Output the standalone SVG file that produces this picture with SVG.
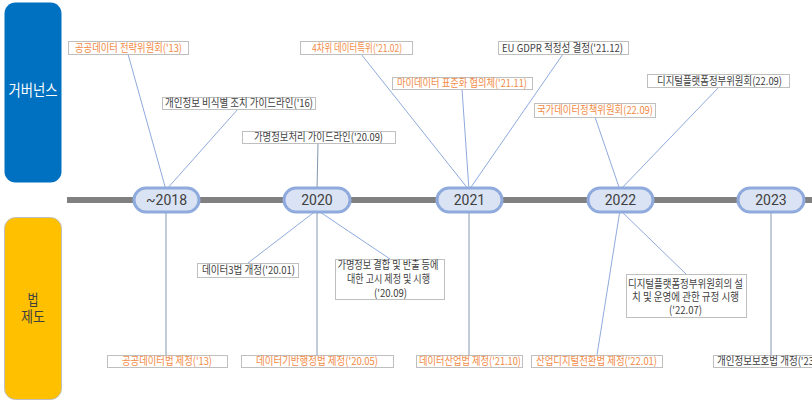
<svg xmlns="http://www.w3.org/2000/svg" width="812" height="404" viewBox="0 0 812 404">
<style>
.lbl{fill:#fff;stroke:#BFBFBF;stroke-width:1}
.t{font-family:"Noto Sans CJK KR","Liberation Sans",sans-serif;font-size:11px;text-anchor:middle}
.o{fill:#F28A45}
.g{fill:#404040}
.pill{fill:#DAE3F3;stroke:#8FAADC;stroke-width:3}
.yr{font-family:Roboto,"Liberation Sans",sans-serif;font-size:14px;fill:#404040;text-anchor:middle}
.cn line{stroke:#8FAADC;stroke-width:1}
.cn line.v{stroke:#8497B0}
</style>
<rect width="812" height="404" fill="#fff"/>
<g id="panel-gov">
<rect x="4.5" y="2.5" width="57" height="180" rx="11" fill="#0070C0"/>
<text x="33" y="96" font-family="Noto Sans CJK KR,sans-serif" font-size="16" fill="#fff" text-anchor="middle" textLength="49" lengthAdjust="spacingAndGlyphs">거버넌스</text>
</g>
<g id="panel-law">
<rect x="4.5" y="217.5" width="57" height="182" rx="11" fill="#FFC000" stroke="#BFBFBF" stroke-width="1"/>
<text font-family="Noto Sans CJK KR,sans-serif" font-size="15" fill="#404040" text-anchor="middle"><tspan x="33" y="305" textLength="11" lengthAdjust="spacingAndGlyphs">법</tspan><tspan x="33" y="322" textLength="24" lengthAdjust="spacingAndGlyphs">제도</tspan></text>
</g>
<rect id="timeline" x="67" y="197" width="745" height="6" fill="#808080"/>
<g id="connectors" class="cn">
<line x1="128" y1="54" x2="166" y2="190"/>
<line x1="238" y1="109" x2="166" y2="190"/>
<line x1="318" y1="143" x2="317" y2="190" class="v"/>
<line x1="361" y1="54" x2="469" y2="190"/>
<line x1="462" y1="89" x2="469" y2="190"/>
<line x1="563" y1="54" x2="469" y2="190"/>
<line x1="595" y1="117" x2="620" y2="190"/>
<line x1="719" y1="87" x2="620" y2="190"/>
<line x1="166" y1="210" x2="166" y2="355" class="v"/>
<line x1="317" y1="210" x2="248" y2="263"/>
<line x1="317" y1="210" x2="317" y2="355" class="v"/>
<line x1="317" y1="210" x2="390" y2="259"/>
<line x1="469" y1="210" x2="469" y2="355" class="v"/>
<line x1="620" y1="210" x2="597" y2="355"/>
<line x1="620" y1="210" x2="687" y2="275"/>
<line x1="771" y1="210" x2="771" y2="355" class="v"/>
</g>
<g id="y2018"><rect class="pill" x="134" y="188" width="65" height="24" rx="12"/><text class="yr" x="166.5" y="205">~2018</text></g>
<g id="y2020"><rect class="pill" x="284" y="188" width="66" height="24" rx="12"/><text class="yr" x="317" y="205">2020</text></g>
<g id="y2021"><rect class="pill" x="437" y="188" width="65" height="24" rx="12"/><text class="yr" x="469.5" y="205">2021</text></g>
<g id="y2022"><rect class="pill" x="588" y="188" width="65" height="24" rx="12"/><text class="yr" x="620.5" y="205">2022</text></g>
<g id="y2023"><rect class="pill" x="738" y="188" width="66" height="24" rx="12"/><text class="yr" x="771" y="205">2023</text></g>

<g id="n1"><rect class="lbl" x="68.5" y="41.5" width="120" height="13"/><text class="t o" x="128.5" y="51.5" textLength="107" lengthAdjust="spacingAndGlyphs">공공데이터 전략위원회('13)</text></g>
<g id="n2"><rect class="lbl" x="162.5" y="97.5" width="153" height="12"/><text class="t g" x="239" y="107" textLength="148" lengthAdjust="spacingAndGlyphs">개인정보 비식별 조치 가이드라인('16)</text></g>
<g id="n3"><rect class="lbl" x="242.5" y="131.5" width="153" height="12"/><text class="t g" x="318.5" y="141" textLength="129" lengthAdjust="spacingAndGlyphs">가명정보처리 가이드라인('20.09)</text></g>
<g id="n4"><rect class="lbl" x="300.5" y="41.5" width="112" height="13"/><text class="t o" x="357" y="51.5" textLength="90" lengthAdjust="spacingAndGlyphs">4차위 데이터특위('21.02)</text></g>
<g id="n5"><rect class="lbl" x="498.5" y="41.5" width="130" height="13"/><text class="t g" x="562.5" y="51.5" textLength="121" lengthAdjust="spacingAndGlyphs">EU GDPR 적정성 결정('21.12)</text></g>
<g id="n6"><rect class="lbl" x="392.5" y="77.5" width="140" height="12"/><text class="t o" x="462" y="87" textLength="130" lengthAdjust="spacingAndGlyphs">마이데이터 표준화 협의체('21.11)</text></g>
<g id="n7"><rect class="lbl" x="534.5" y="103.5" width="121" height="14"/><text class="t o" x="595" y="114" textLength="116" lengthAdjust="spacingAndGlyphs">국가데이터정책위원회(22.09)</text></g>
<g id="n8"><rect class="lbl" x="647.5" y="74.5" width="142" height="13"/><text class="t g" x="719.5" y="84.5" textLength="125" lengthAdjust="spacingAndGlyphs">디지털플랫폼정부위원회(22.09)</text></g>
<g id="n9"><rect class="lbl" x="197.5" y="263.5" width="101" height="14"/><text class="t g" x="248.5" y="274" textLength="93" lengthAdjust="spacingAndGlyphs">데이터3법 개정('20.01)</text></g>
<g id="n10"><rect class="lbl" x="335.5" y="259.5" width="109" height="40"/>
<text class="t g"><tspan x="388" y="269" textLength="101" lengthAdjust="spacingAndGlyphs">가명정보 결합 및 반출 등에</tspan><tspan x="388.5" y="283" textLength="83" lengthAdjust="spacingAndGlyphs">대한 고시 제정 및 시행</tspan><tspan x="390.5" y="297" textLength="33" lengthAdjust="spacingAndGlyphs">('20.09)</tspan></text></g>
<g id="n11"><rect class="lbl" x="241.5" y="355.5" width="152" height="12"/><text class="t o" x="317" y="365" textLength="122" lengthAdjust="spacingAndGlyphs">데이터기반행정법 제정('20.05)</text></g>
<g id="n12"><rect class="lbl" x="107.5" y="355.5" width="120" height="12"/><text class="t o" x="167" y="365" textLength="90" lengthAdjust="spacingAndGlyphs">공공데이터법 제정('13)</text></g>
<g id="n13"><rect class="lbl" x="416.5" y="355.5" width="106" height="12"/><text class="t o" x="470" y="365" textLength="102" lengthAdjust="spacingAndGlyphs">데이터산업법 제정('21.10)</text></g>
<g id="n14"><rect class="lbl" x="531.5" y="355.5" width="131" height="12"/><text class="t o" x="596.5" y="365" textLength="121" lengthAdjust="spacingAndGlyphs">산업디지털전환법 제정('22.01)</text></g>
<g id="n15"><rect class="lbl" x="626.5" y="274.5" width="120" height="43"/>
<text class="t g"><tspan x="685.5" y="288" textLength="115" lengthAdjust="spacingAndGlyphs">디지털플랫폼정부위원회의 설</tspan><tspan x="685.5" y="301" textLength="107" lengthAdjust="spacingAndGlyphs">치 및 운영에 관한 규정 시행</tspan><tspan x="685.5" y="314" textLength="33" lengthAdjust="spacingAndGlyphs">('22.07)</tspan></text></g>
<g id="n16"><rect class="lbl" x="713.5" y="355.5" width="110" height="12"/><text class="t g" x="717" y="365" style="text-anchor:start" textLength="97" lengthAdjust="spacingAndGlyphs">개인정보보호법 개정('23</text></g>
</svg>
